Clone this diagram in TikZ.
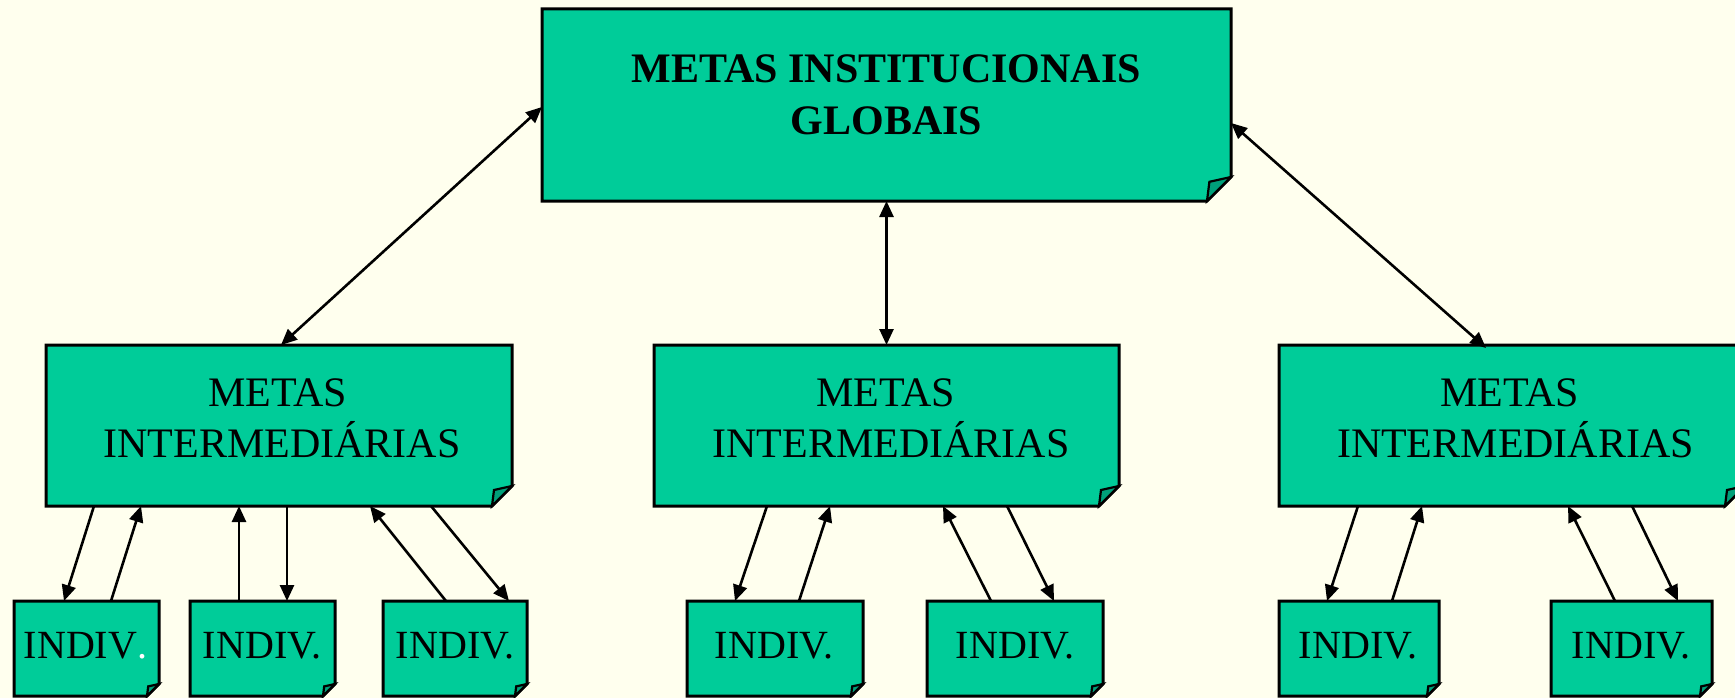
\documentclass[tikz,border=0pt]{standalone}
\usepackage{fontspec}
\setmainfont{Liberation Serif}
\usetikzlibrary{arrows.meta}
\definecolor{bgc}{RGB}{255,255,238}
\definecolor{boxc}{RGB}{0,204,153}
\definecolor{flapc}{RGB}{0,160,122}
\tikzset{
  boxshape/.style={inner sep=0pt, outer sep=0pt, draw=none},
  boxline/.style={draw=black, line width=3pt, line join=miter},
  big/.style={font=\fontsize{42}{52}\selectfont, inner sep=0pt, anchor=base},
  small/.style={font=\fontsize{40}{48}\selectfont, inner sep=0pt, anchor=base},
  conn/.style={line width=2.6pt, -{Triangle[length=16pt,width=14pt]}},
  biconn/.style={line width=2.6pt, {Triangle[length=16pt,width=14pt]}-{Triangle[length=16pt,width=14pt]}}
}
\newcommand\foldbox[2]{%
  \filldraw[boxline, fill=boxc] (#1.north west) -- (#1.north east) -- ([yshift=#2]#1.south east) -- ([xshift=-#2]#1.south east) -- (#1.south west) -- cycle;
  \filldraw[boxline, line width=2.2pt, fill=flapc] ([yshift=#2]#1.south east) -- ([xshift=-0.9*#2, yshift=0.8*#2]#1.south east) -- ([xshift=-#2]#1.south east) -- cycle;}
\begin{document}
\begin{tikzpicture}[x=1pt,y=-1pt]
\useasboundingbox (0,0) rectangle (1735,698);
\clip (0,0) rectangle (1735,698);
\fill[bgc] (0,0) rectangle (1735,698);

% box nodes
\node[boxshape, minimum width=689pt, minimum height=192pt] (top) at (886.5,105) {};
\node[boxshape, minimum width=466pt, minimum height=161pt] (midL) at (279,425.5) {};
\node[boxshape, minimum width=465pt, minimum height=161pt] (midC) at (886.5,425.5) {};
\node[boxshape, minimum width=466pt, minimum height=161pt] (midR) at (1512,425.5) {};
\node[boxshape, minimum width=145pt, minimum height=95pt] (L1) at (86.5,648.5) {};
\node[boxshape, minimum width=145pt, minimum height=95pt] (L2) at (262.5,648.5) {};
\node[boxshape, minimum width=144pt, minimum height=95pt] (L3) at (455,648.5) {};
\node[boxshape, minimum width=176pt, minimum height=95pt] (C1) at (775,648.5) {};
\node[boxshape, minimum width=176pt, minimum height=95pt] (C2) at (1015,648.5) {};
\node[boxshape, minimum width=160pt, minimum height=95pt] (R1) at (1359,648.5) {};
\node[boxshape, minimum width=161pt, minimum height=95pt] (R2) at (1631.5,648.5) {};

\foldbox{top}{24pt}
\foldbox{midL}{20pt}
\foldbox{midC}{20pt}
\foldbox{midR}{20pt}
\foldbox{L1}{12pt}
\foldbox{L2}{12pt}
\foldbox{L3}{12pt}
\foldbox{C1}{12pt}
\foldbox{C2}{12pt}
\foldbox{R1}{12pt}
\foldbox{R2}{12pt}

% texts
\node[big] (t1) at (886.5,83) {\bfseries METAS INSTITUCIONAIS};
\node[big] (t2) at (886.5,135) {\bfseries GLOBAIS};
\node[big] (ml1) at (277.5,406) {METAS};
\node[big] (ml2) at (282,457) {INTERMEDIÁRIAS};
\node[big] (mc1) at (885.5,406) {METAS};
\node[big] (mc2) at (891,457) {INTERMEDIÁRIAS};
\node[big] (mr1) at (1509.5,406) {METAS};
\node[big] (mr2) at (1515.5,457) {INTERMEDIÁRIAS};
\node[small] (tL1) at (85.5,658) {INDIV\textcolor{white}{.}};
\node[small] (tL2) at (262,658) {INDIV.};
\node[small] (tL3) at (455,658) {INDIV.};
\node[small] (tC1) at (774,658) {INDIV.};
\node[small] (tC2) at (1015,658) {INDIV.};
\node[small] (tR1) at (1358,658) {INDIV.};
\node[small] (tR2) at (1631,658) {INDIV.};

% top-level connectors
\draw[biconn] ([yshift=-98pt]top.north west) -- ([xshift=235pt]midL.north west);
\draw[biconn] (top.south) -- (midC.north);
\draw[biconn] ([yshift=-114pt]top.north east) -- ([xshift=207pt,yshift=-3pt]midR.north west);

% left group
\draw[conn] ([xshift=48pt]midL.south west) -- ([xshift=50pt]L1.north west);
\draw[conn] ([xshift=97pt]L1.north west) -- ([xshift=95pt]midL.south west);
\draw[conn] ([xshift=49pt]L2.north west) -- ([xshift=193pt]midL.south west);
\draw[conn] ([xshift=241pt]midL.south west) -- ([xshift=97pt]L2.north west);
\draw[conn] ([xshift=63pt]L3.north west) -- ([xshift=324pt]midL.south west);
\draw[conn] ([xshift=385pt]midL.south west) -- ([xshift=126pt]L3.north west);

% centre group
\draw[conn] ([xshift=113pt]midC.south west) -- ([xshift=48pt]C1.north west);
\draw[conn] ([xshift=112pt]C1.north west) -- ([xshift=176pt]midC.south west);
\draw[conn] ([xshift=64pt]C2.north west) -- ([xshift=289pt]midC.south west);
\draw[conn] ([xshift=353pt]midC.south west) -- ([xshift=127pt]C2.north west);

% right group
\draw[conn] ([xshift=79pt]midR.south west) -- ([xshift=48pt]R1.north west);
\draw[conn] ([xshift=113pt]R1.north west) -- ([xshift=143pt]midR.south west);
\draw[conn] ([xshift=64pt]R2.north west) -- ([xshift=289pt]midR.south west);
\draw[conn] ([xshift=353pt]midR.south west) -- ([xshift=127pt]R2.north west);
\end{tikzpicture}
\end{document}
